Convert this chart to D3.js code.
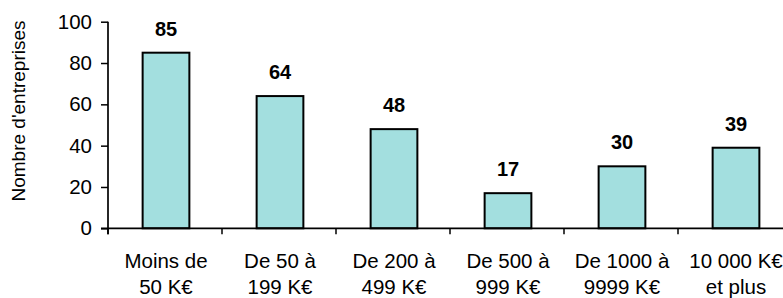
<!DOCTYPE html>
<html>
<head>
<meta charset="utf-8">
<script src="https://cdn.jsdelivr.net/npm/d3@7"></script>
<style>
  html, body { margin: 0; padding: 0; background: #fff; }
  svg { display: block; font-family: Arial, "Liberation Sans", sans-serif; }
</style>
</head>
<body>
<svg id="chart" width="783" height="298"></svg>
<script>
const categories = [
  ["Moins de", "50 K€"],
  ["De 50 à", "199 K€"],
  ["De 200 à", "499 K€"],
  ["De 500 à", "999 K€"],
  ["De 1000 à", "9999 K€"],
  ["10 000 K€", "et plus"]
];
const values = [85, 64, 48, 17, 30, 39];
const yTicks = [0, 20, 40, 60, 80, 100];
const yTitle = "Nombre d'entreprises";

(function () {
const svg = d3.select("#chart");
const mLeft = 108, mRight = 792, mTop = 21.7, mBottom = 228.3;

const x = d3.scaleBand().domain(d3.range(categories.length)).range([mLeft, mRight]).paddingInner(0).paddingOuter(0);
const y = d3.scaleLinear().domain([0, 100]).range([mBottom, mTop]);

// bars
const barW = x.bandwidth() * 0.41;
svg.append("g").selectAll("rect").data(values).join("rect")
  .attr("x", (d, i) => x(i) + x.bandwidth() / 2 - barW / 2 + 1)
  .attr("y", d => y(d))
  .attr("width", barW)
  .attr("height", d => y(0) - y(d))
  .attr("fill", "#a3dfdf")
  .attr("stroke", "#000")
  .attr("stroke-width", 2);

// value labels
svg.append("g").selectAll("text").data(values).join("text")
  .attr("x", (d, i) => x(i) + x.bandwidth() / 2 + 1)
  .attr("y", d => y(d) - 17)
  .attr("text-anchor", "middle")
  .attr("font-weight", "bold")
  .attr("font-size", "20px")
  .attr("fill", "#000")
  .text(d => d);

// y axis
const yAxis = d3.axisLeft(y).tickValues(yTicks).tickSize(7).tickPadding(9);
const gy = svg.append("g").attr("transform", `translate(${mLeft},0)`).call(yAxis);
gy.select(".domain").attr("d", `M0,${mTop}V${mBottom + 6}`).attr("stroke", "#000").attr("stroke-width", 1.7);
gy.selectAll(".tick line").attr("stroke", "#000").attr("stroke-width", 1.5);
gy.selectAll(".tick text").attr("font-size", "20.5px").attr("fill", "#000")
  .attr("font-family", "Arial, 'Liberation Sans', sans-serif");

// x axis
const bounds = d3.range(categories.length + 1).map(i => i < categories.length ? x(i) : x(categories.length - 1) + x.bandwidth());
const gx = svg.append("g");
gx.append("line").attr("x1", mLeft - 7).attr("x2", mRight).attr("y1", mBottom).attr("y2", mBottom)
  .attr("stroke", "#000").attr("stroke-width", 1.7);
gx.selectAll("line.t").data(bounds).join("line").attr("class", "t")
  .attr("x1", d => d).attr("x2", d => d).attr("y1", mBottom).attr("y2", mBottom + 6)
  .attr("stroke", "#000").attr("stroke-width", 1.5);
const lab = gx.selectAll("text").data(categories).join("text")
  .attr("text-anchor", "middle")
  .attr("font-size", "20.5px")
  .attr("fill", "#000");
lab.append("tspan").attr("x", (d, i) => x(i) + x.bandwidth() / 2 + 1).attr("y", 268).text(d => d[0]);
lab.append("tspan").attr("x", (d, i) => x(i) + x.bandwidth() / 2 + 1).attr("y", 294).text(d => d[1]);

// y title
svg.append("text")
  .attr("transform", `translate(25,${(mTop + mBottom) / 2 - 14}) rotate(-90)`)
  .attr("text-anchor", "middle")
  .attr("font-size", "19px")
  .attr("fill", "#000")
  .text(yTitle);
})();
</script>
</body>
</html>
